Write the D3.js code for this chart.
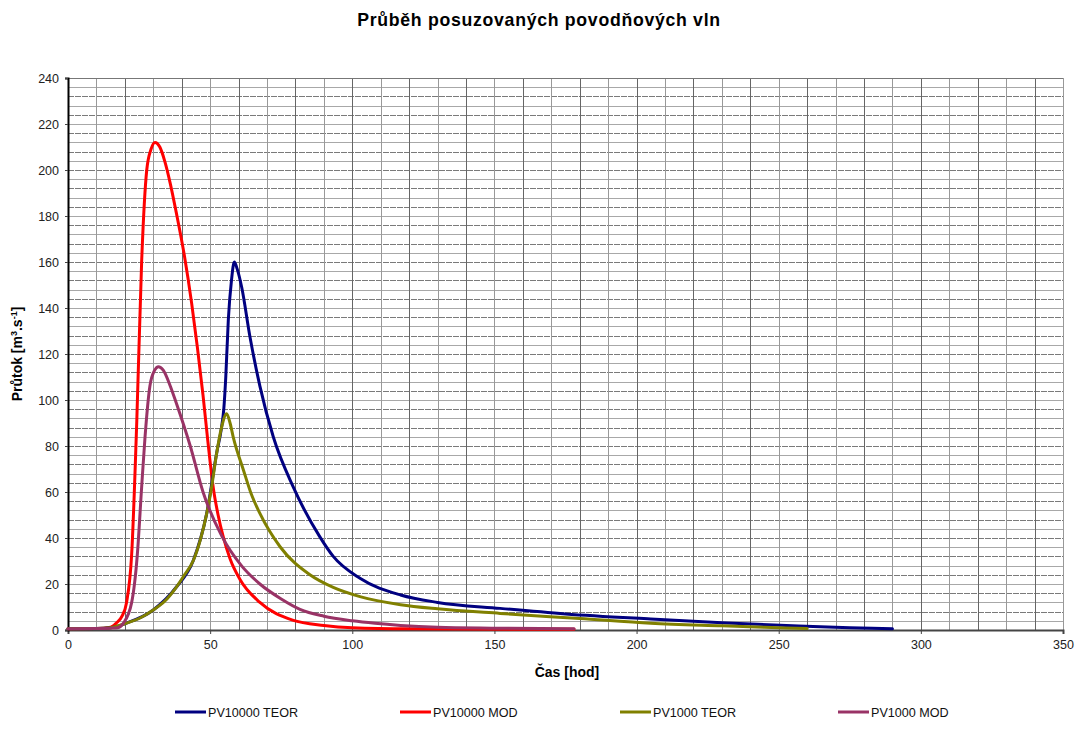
<!DOCTYPE html>
<html>
<head>
<meta charset="utf-8">
<script src="https://cdn.jsdelivr.net/npm/d3@7"></script>
<style>
  body { margin: 0; background: #fff; }
  svg { font-family: "Liberation Sans", Arial, sans-serif; }
</style>
</head>
<body>
<script>
// time [hod], discharge [m3/s]
var PV10000_TEOR = [[0,0.5],[10,0.6],[15,1],[20.6,3],[30,8.7],[38.2,18.8],[44,30],[48.8,50.7],[52.3,77],[54,88],[54.8,96],[55.5,110],[56.4,135],[57.5,152],[58.5,160],[59.5,157],[61.1,149],[64,127.5],[67.5,106],[72.2,84],[79.3,62],[88.6,40.5],[93.3,32],[102.7,22.5],[117,15.2],[130,12],[152,9.4],[175,7],[205,4.8],[230,3.2],[257,1.7],[275,1],[290,0.5]];
var PV10000_MOD = [[0,0.5],[10,0.6],[15,1.2],[17,3],[19,6],[20.6,12],[22.4,33],[24.2,91],[25.9,160],[27.7,200],[29.2,209],[30.6,212],[32.3,210],[34,204],[36,194],[38,182],[40.9,163],[43.5,142],[45.5,123],[47.5,102],[49.2,82],[51.2,61],[52.8,50],[54.5,41],[57,31],[60.5,22],[67.5,12],[79,4.3],[90,2],[100,1],[120,0.5],[178,0.3]];
var PV1000_TEOR = [[0,0.5],[10,0.6],[15,1],[20.6,3],[25,5],[30,8.7],[34,12.5],[38.2,18.8],[41,24],[44,30],[46.5,39],[48.8,50.7],[50.5,62],[52.3,77],[54,88],[55.8,94],[57,90],[58.1,84],[61.7,69.6],[64.5,59],[67.5,50.7],[74.6,36.2],[85.1,24],[93.3,18.5],[102.7,14.5],[117,11],[130,9.2],[152,7.2],[180,5],[205,2.9],[230,1.8],[245,1.2],[260,0.6]];
var PV1000_MOD = [[0,0.5],[10,0.6],[15,0.8],[17.5,1],[19.5,3],[22.4,12],[24.4,33],[25.9,62],[27.1,84],[28.8,106],[30.5,113],[31.8,114.5],[33.5,113],[36,106],[38,99],[43,80],[47.5,60],[54.2,40.6],[61,28],[67.5,20],[75,13.5],[81.6,9],[90,6],[100,4],[108,2.9],[117,2],[130,1.2],[150,0.8],[178,0.5]];

var NAZVY = ["PV10000 TEOR", "PV10000 MOD", "PV1000 TEOR", "PV1000 MOD"];
var BARVY = ["#000080", "#ff0000", "#808000", "#993366"];
var X_TICKS = [0, 50, 100, 150, 200, 250, 300, 350];
var Y_TICKS = [0, 20, 40, 60, 80, 100, 120, 140, 160, 180, 200, 220, 240];

var W = 1077, H = 735;
var margin = { top: 78, right: 14, bottom: 105, left: 68 };
var width = W - margin.left - margin.right;
var height = H - margin.top - margin.bottom;

var svg = d3.select("body").append("svg").attr("width", W).attr("height", H);

svg.append("text").attr("x", 539).attr("y", 26).attr("text-anchor", "middle")
  .style("font-size", "17.7px").style("font-weight", "bold").style("letter-spacing", "0.7px")
  .text("Průběh posuzovaných povodňových vln");

var g = svg.append("g").attr("transform", "translate(" + margin.left + "," + margin.top + ")");

var x = d3.scaleLinear().domain([0, 350]).range([0, width]);
var y = d3.scaleLinear().domain([0, 240]).range([height, 0]);

// mrizka
g.append("g").selectAll("line").data(d3.range(4, 240, 4)).enter().append("line")
  .attr("x1", 0).attr("x2", width)
  .attr("y1", function (d) { return Math.round(y(d)) + 0.5; }).attr("y2", function (d) { return Math.round(y(d)) + 0.5; })
  .attr("stroke", function (d) { return d % 8 == 0 ? "#7a7a7a" : "#a8a8a8"; })
  .attr("stroke-width", 1)
  .attr("stroke-dasharray", function (d) { return d % 8 == 0 ? "6,1" : null; });

g.append("g").selectAll("line").data(d3.range(10, 351, 10)).enter().append("line")
  .attr("y1", 0).attr("y2", height)
  .attr("x1", function (d) { return Math.round(x(d)) + 0.5; }).attr("x2", function (d) { return Math.round(x(d)) + 0.5; })
  .attr("stroke", function (d) { return d % 20 == 0 ? "#666" : "#999"; })
  .attr("stroke-width", 1);

g.append("line").attr("x1", 0).attr("x2", width).attr("y1", 0.5).attr("y2", 0.5).attr("stroke", "#777");

// osy
var xAxis = g.append("g").attr("transform", "translate(0," + height + ")")
  .call(d3.axisBottom(x).tickValues(X_TICKS).tickSize(4).tickPadding(6));
var yAxis = g.append("g")
  .call(d3.axisLeft(y).tickValues(Y_TICKS).tickSize(3).tickPadding(6));

xAxis.select(".domain").attr("stroke", "#444").attr("stroke-width", 2);
yAxis.select(".domain").attr("stroke", "#000").attr("stroke-width", 2);
[xAxis, yAxis].forEach(function (a) {
  a.selectAll("text").style("font-size", "12.5px").style("font-family", "Liberation Sans, Arial, sans-serif").attr("fill", "#222");
  a.selectAll(".tick line").attr("stroke", "#444");
});

// krivky
var line = d3.line().x(function (d) { return x(d[0]); }).y(function (d) { return y(d[1]); }).curve(d3.curveMonotoneX);
var serie = [PV10000_TEOR, PV10000_MOD, PV1000_TEOR, PV1000_MOD];
var poradi = [1, 0, 2, 3];
poradi.forEach(function (i) {
  g.append("path").datum(serie[i]).attr("d", line)
    .attr("fill", "none").attr("stroke", BARVY[i]).attr("stroke-width", 3)
    .attr("stroke-linejoin", "round").attr("stroke-linecap", "round");
});

// popisky os
svg.append("text").attr("x", 567).attr("y", 677).attr("text-anchor", "middle")
  .style("font-size", "14px").style("font-weight", "bold").text("Čas [hod]");

var yl = svg.append("text").attr("transform", "translate(22,354) rotate(-90)").attr("text-anchor", "middle")
  .style("font-size", "14px").style("font-weight", "bold");
yl.append("tspan").text("Průtok [m");
yl.append("tspan").attr("dy", -5).style("font-size", "9px").text("3");
yl.append("tspan").attr("dy", 5).text(".s");
yl.append("tspan").attr("dy", -5).style("font-size", "9px").text("-1");
yl.append("tspan").attr("dy", 5).text("]");

// legenda
var LEG_X = [175, 400, 620, 838];
var leg = svg.append("g").attr("transform", "translate(0,712)");
NAZVY.forEach(function (n, i) {
  leg.append("line").attr("x1", LEG_X[i]).attr("x2", LEG_X[i] + 31).attr("y1", 0).attr("y2", 0)
    .attr("stroke", BARVY[i]).attr("stroke-width", 3);
  leg.append("text").attr("x", LEG_X[i] + 33).attr("y", 4.5).style("font-size", "12.6px").attr("fill", "#111").text(n);
});
</script>
</body>
</html>
